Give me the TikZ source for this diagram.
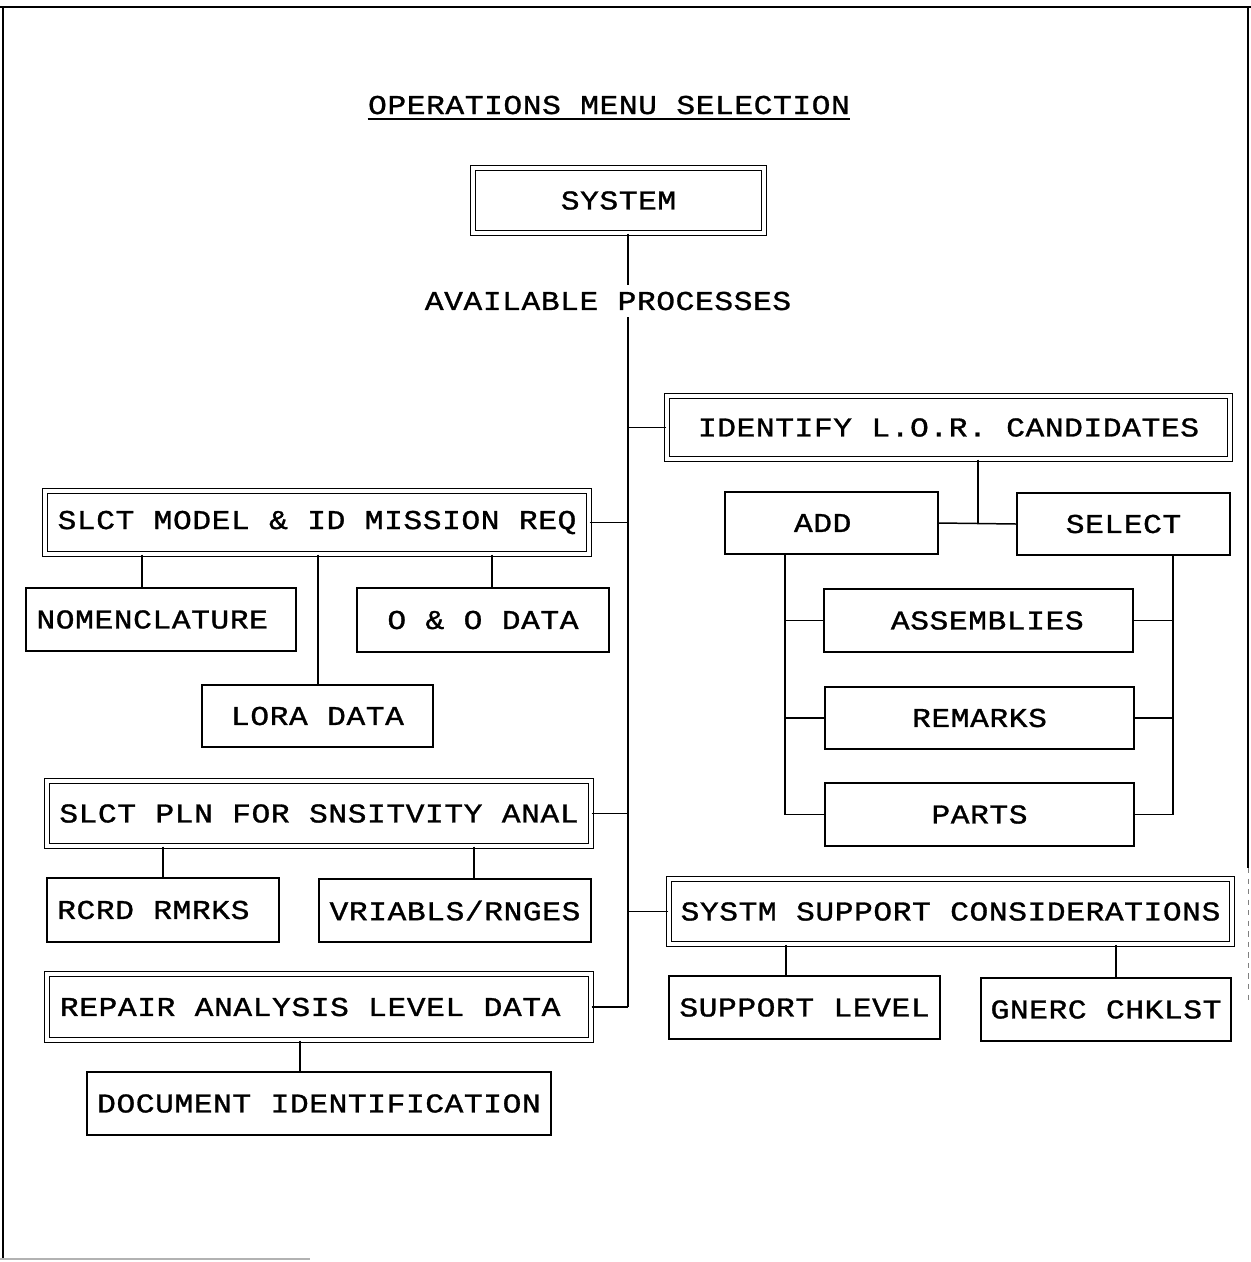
\documentclass[tikz,border=0pt]{standalone}
\usepackage{fontspec}
\newfontfamily\courfont[FakeStretch=1.15,LetterSpace=2,FakeBold=1.1]{Liberation Mono}
\newcommand\sbx[6]{\node[sbox, minimum width={(#4-#2-2)*0.02cm}, minimum height={(#5-#3-2)*0.02cm}] (#1) at ({(#2+#4)/2},{(#3+#5)/2}) {#6};}
\newcommand\dbx[6]{\node[dbox, minimum width={(#4-#2-6)*0.02cm}, minimum height={(#5-#3-6)*0.02cm}] (#1) at ({(#2+#4)/2},{(#3+#5)/2}) {#6};}
\begin{document}
\begin{tikzpicture}[x=0.02cm,y=-0.02cm,
  every node/.style={font=\courfont\fontsize{15.5}{17}\selectfont, text=black},
  sbox/.style={draw, line width=1pt, inner sep=0pt},
  dbox/.style={draw, line width=0.75pt, double, double distance=1.9pt, inner sep=0pt},
  conn/.style={line width=0.85pt},
  frameline/.style={line width=0.8pt}]
\useasboundingbox (0,0) rectangle (1251,1262);
% frame
\draw[frameline, line width=1.4pt] (0,7) -- (1251,7);
\draw[frameline] (3,7) -- (3,1260);
\draw[frameline] (1248,7) -- (1248,868);
\draw[gray, dashed, line width=0.5pt] (1248,868) -- (1248,1000);
\draw[gray!60, line width=0.8pt] (0,1259) -- (310,1259);
% title
\node[anchor=base, inner sep=0pt] (title) at (609,114) {OPERATIONS MENU SELECTION};
\draw[line width=1.1pt] ([yshift=-0.1cm]title.base west) -- ([yshift=-0.1cm]title.base east);
% double boxes
\dbx{sys}{470}{165}{767}{236}{SYSTEM}
\dbx{ident}{664}{393}{1233}{462}{IDENTIFY L.O.R. CANDIDATES}
\dbx{mdl}{42}{488}{592}{557}{SLCT MODEL \& ID MISSION REQ}
\dbx{pln}{44}{778}{594}{849}{SLCT PLN FOR SNSITVITY ANAL}
\dbx{rep}{44}{971}{594}{1043}{REPAIR ANALYSIS LEVEL DATA\hspace*{10pt}}
\dbx{ssc}{666}{876}{1235}{947}{SYSTM SUPPORT CONSIDERATIONS}
% single boxes
\sbx{nom}{25}{587}{297}{652}{NOMENCLATURE\hspace*{10pt}}
\sbx{ooo}{356}{587}{610}{653}{O \& O DATA}
\sbx{lora}{201}{684}{434}{748}{LORA DATA}
\sbx{rcrd}{46}{877}{280}{943}{RCRD RMRKS\hspace*{11pt}}
\sbx{vri}{318}{878}{592}{943}{VRIABLS/RNGES}
\sbx{doc}{86}{1071}{552}{1136}{DOCUMENT IDENTIFICATION}
\sbx{add}{724}{491}{939}{555}{ADD\hspace*{10pt}}
\sbx{sel}{1016}{492}{1231}{556}{SELECT}
\sbx{asm}{823}{588}{1134}{653}{\hspace*{10pt}ASSEMBLIES}
\sbx{rem}{824}{686}{1135}{750}{REMARKS}
\sbx{parts}{824}{782}{1135}{847}{PARTS}
\sbx{supl}{668}{975}{941}{1040}{SUPPORT LEVEL}
\sbx{gnerc}{980}{977}{1232}{1042}{GNERC CHKLST}
% x positions of connectors
\coordinate (xt) at (628,0);
\coordinate (xnom) at (142,0);
\coordinate (xlora) at (318,0);
\coordinate (xoo) at (492,0);
\coordinate (xrc) at (163,0);
\coordinate (xvr) at (474,0);
\coordinate (xdoc) at (300,0);
\coordinate (xid) at (978,0);
\coordinate (xl) at (785,0);
\coordinate (xr) at (1173,0);
\coordinate (xsl) at (786,0);
\coordinate (xgn) at (1116,0);
% trunk
\draw[conn] (xt |- sys.south) -- (xt |- rep.east);
\draw[conn] (ident.west) -- (xt |- ident.west);
\draw[conn] (ssc.west) -- (xt |- ssc.west);
\draw[conn] (mdl.east) -- (xt |- mdl.east);
\draw[conn] (pln.east) -- (xt |- pln.east);
\draw[conn] (rep.east) -- (xt |- rep.east);
% left children
\draw[conn] (xnom |- mdl.south) -- (xnom |- nom.north);
\draw[conn] (xlora |- mdl.south) -- (xlora |- lora.north);
\draw[conn] (xoo |- mdl.south) -- (xoo |- ooo.north);
\draw[conn] (xrc |- pln.south) -- (xrc |- rcrd.north);
\draw[conn] (xvr |- pln.south) -- (xvr |- vri.north);
\draw[conn] (xdoc |- rep.south) -- (xdoc |- doc.north);
% right children
\draw[conn] (xid |- ident.south) -- (xid |- add.east);
\draw[conn] (add.east) -- (sel.west);
\draw[conn] (xl |- add.south) -- (xl |- parts.west) -- (parts.west);
\draw[conn] (xl |- asm.west) -- (asm.west);
\draw[conn] (xl |- rem.west) -- (rem.west);
\draw[conn] (xr |- sel.south) -- (xr |- parts.east) -- (parts.east);
\draw[conn] (xr |- asm.east) -- (asm.east);
\draw[conn] (xr |- rem.east) -- (rem.east);
\draw[conn] (xsl |- ssc.south) -- (xsl |- supl.north);
\draw[conn] (xgn |- ssc.south) -- (xgn |- gnerc.north);
% label on trunk
\node[fill=white, inner xsep=2pt, inner ysep=4pt] (avail) at (608,301) {AVAILABLE PROCESSES};
\end{tikzpicture}
\end{document}
